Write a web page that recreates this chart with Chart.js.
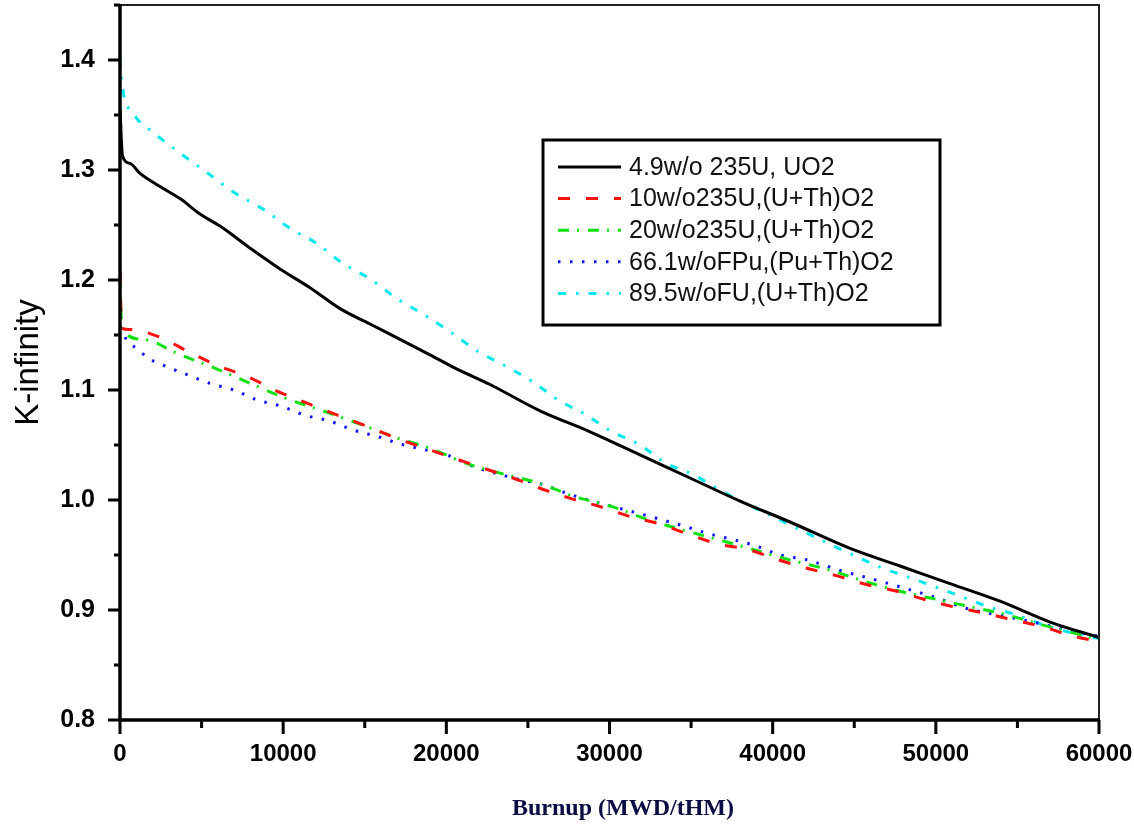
<!DOCTYPE html>
<html>
<head>
<meta charset="utf-8">
<script src="https://cdn.jsdelivr.net/npm/chart.js@4/dist/chart.umd.min.js"></script>
<style>
  body { margin: 0; background: #fff; }
  #wrap { position: relative; width: 1134px; height: 829px; }
</style>
</head>
<body>
<div id="wrap"><canvas id="myChart" width="1134" height="829"></canvas></div>
<script>
// series labels
const seriesNames = [
  "4.9w/o 235U, UO2",
  "10w/o235U,(U+Th)O2",
  "20w/o235U,(U+Th)O2",
  "66.1w/oFPu,(Pu+Th)O2",
  "89.5w/oFU,(U+Th)O2"
];

// 4.9w/o 235U, UO2 (black)
const burnupUO2 = [0, 150, 613, 1226, 2452, 3677, 4903, 6129, 7968, 9806, 11645, 13484, 15323, 17161, 19000, 20655, 22677, 25742, 28806, 31871, 34935, 38000, 41065, 44742, 47806, 50871, 53935, 57000, 60000];
const kUO2      = [1.356, 1.313, 1.306, 1.297, 1.285, 1.274, 1.260, 1.249, 1.229, 1.210, 1.193, 1.174, 1.160, 1.146, 1.132, 1.119, 1.105, 1.081, 1.062, 1.041, 1.020, 0.999, 0.980, 0.956, 0.940, 0.924, 0.908, 0.889, 0.875];

// 10w/o235U,(U+Th)O2 (red)
const burnup10U = [0, 100, 613, 2452, 4168, 6006, 7845, 9622, 11461, 13361, 15139, 16977, 18510, 20471, 22248, 24087, 25864, 27703, 29419, 31258, 33097, 34813, 36651, 38490, 40268, 42106, 43945, 45784, 47623, 49216, 51055, 53016, 54732, 56510, 58226, 60000];
const k10U      = [1.208, 1.156, 1.155, 1.148, 1.135, 1.122, 1.112, 1.099, 1.088, 1.077, 1.067, 1.056, 1.048, 1.038, 1.029, 1.020, 1.010, 1.001, 0.994, 0.985, 0.978, 0.969, 0.960, 0.955, 0.946, 0.938, 0.931, 0.923, 0.917, 0.910, 0.903, 0.897, 0.891, 0.885, 0.877, 0.871];

// 20w/o235U,(U+Th)O2 (green)
const burnup20U = [0, 120, 1410, 3555, 5945, 8152, 10236, 12442, 14526, 16855, 19000, 21268, 23413, 25742, 27887, 30155, 32177, 34445, 36651, 38797, 40942, 43332, 45661, 47806, 49951, 52096, 54242, 56387, 58226, 60000];
const k20U      = [1.202, 1.156, 1.146, 1.133, 1.119, 1.105, 1.092, 1.081, 1.070, 1.057, 1.047, 1.033, 1.024, 1.015, 1.003, 0.994, 0.983, 0.973, 0.964, 0.955, 0.946, 0.937, 0.926, 0.917, 0.910, 0.903, 0.896, 0.887, 0.880, 0.873];

// 66.1w/oFPu,(Pu+Th)O2 (blue)
const burnupPu = [0, 429, 1103, 1716, 2574, 4107, 5516, 6987, 8397, 9929, 11339, 12810, 14219, 15935, 17161, 18571, 20042, 21574, 24393, 25926, 27397, 28806, 31748, 33220, 34629, 36161, 37571, 39042, 40452, 41984, 44129, 46397, 47806, 50074, 51974, 53629, 54977, 56571, 58042, 60000];
const kPu      = [1.158, 1.145, 1.137, 1.129, 1.123, 1.114, 1.106, 1.100, 1.091, 1.085, 1.077, 1.072, 1.064, 1.057, 1.051, 1.046, 1.041, 1.031, 1.019, 1.014, 1.006, 0.9995, 0.988, 0.982, 0.976, 0.969, 0.964, 0.958, 0.950, 0.946, 0.936, 0.927, 0.921, 0.911, 0.901, 0.896, 0.892, 0.887, 0.882, 0.876];

// 89.5w/oFU,(U+Th)O2 (cyan)
const burnupFU = [0, 100, 797, 2145, 3800, 5394, 7048, 8703, 10419, 12074, 13668, 15323, 16977, 18571, 20226, 21942, 23597, 25252, 26845, 28500, 30155, 31748, 33526, 35119, 36774, 38429, 40023, 41677, 43332, 44926, 46580, 48297, 49951, 51606, 53200, 54855, 56510, 58103, 60000];
const kFU      = [1.401, 1.380, 1.352, 1.333, 1.314, 1.297, 1.279, 1.265, 1.247, 1.233, 1.215, 1.201, 1.183, 1.169, 1.153, 1.135, 1.122, 1.108, 1.091, 1.078, 1.062, 1.051, 1.033, 1.023, 1.009, 0.996, 0.985, 0.973, 0.961, 0.950, 0.939, 0.930, 0.921, 0.912, 0.903, 0.896, 0.887, 0.880, 0.874];

// axis ticks
const xTickValues = [0, 10000, 20000, 30000, 40000, 50000, 60000];
const xMinorValues = [5000, 15000, 25000, 35000, 45000, 55000];
const yTickValues = [0.8, 0.9, 1.0, 1.1, 1.2, 1.3, 1.4];
const yMinorValues = [0.85, 0.95, 1.05, 1.15, 1.25, 1.35, 1.45];

const toPoints = (xs, ys) => xs.map((x, i) => ({ x: x, y: ys[i] }));

const makeSet = (label, xs, ys, color, dash) => ({
  label: label,
  data: toPoints(xs, ys),
  borderColor: color,
  backgroundColor: color,
  borderWidth: 3,
  borderDash: dash,
  pointRadius: 0,
  showLine: true,
  fill: false,
  cubicInterpolationMode: 'monotone'
});

const datasets = [
  makeSet(seriesNames[0], burnupUO2, kUO2, '#000000', []),
  makeSet(seriesNames[1], burnup10U, k10U, '#ff1010', [12, 16]),
  makeSet(seriesNames[2], burnup20U, k20U, '#10e010', [11, 8, 2, 9]),
  makeSet(seriesNames[3], burnupPu, kPu, '#1010ff', [2.5, 9.5]),
  makeSet(seriesNames[4], burnupFU, kFU, '#00e8ee', [8, 10, 2.5, 10])
];
// draw black on top
datasets.forEach((d, i) => { d.order = i === 0 ? 0 : 1; });

// frame, ticks, legend and x title drawn with the chart's own scales
const framePlugin = {
  id: 'frame',
  afterDraw(chart) {
    const ctx = chart.ctx;
    const a = chart.chartArea;
    const xs = chart.scales.x;
    const ys = chart.scales.y;
    ctx.save();

    // thin top + right
    ctx.strokeStyle = '#222';
    ctx.lineWidth = 2;
    ctx.beginPath();
    ctx.moveTo(a.left, a.top);
    ctx.lineTo(a.right, a.top);
    ctx.lineTo(a.right, a.bottom);
    ctx.stroke();

    // thick left + bottom
    ctx.strokeStyle = '#000';
    ctx.lineWidth = 3.5;
    ctx.beginPath();
    ctx.moveTo(a.left, a.top - 1);
    ctx.lineTo(a.left, a.bottom);
    ctx.lineTo(a.right + 1, a.bottom);
    ctx.stroke();

    ctx.lineWidth = 3;
    ctx.beginPath();
    yTickValues.forEach(v => {
      const y = ys.getPixelForValue(v);
      ctx.moveTo(a.left - 12, y); ctx.lineTo(a.left, y);
    });
    yMinorValues.forEach(v => {
      const y = ys.getPixelForValue(v);
      ctx.moveTo(a.left - 6, y); ctx.lineTo(a.left, y);
    });
    xTickValues.forEach(v => {
      const x = xs.getPixelForValue(v);
      ctx.moveTo(x, a.bottom); ctx.lineTo(x, a.bottom + 14);
    });
    xMinorValues.forEach(v => {
      const x = xs.getPixelForValue(v);
      ctx.moveTo(x, a.bottom); ctx.lineTo(x, a.bottom + 8);
    });
    ctx.stroke();

    // legend box
    const lx = 543, ly = 140, lw = 397, lh = 185;
    ctx.fillStyle = '#fff';
    ctx.fillRect(lx, ly, lw, lh);
    ctx.strokeStyle = '#000';
    ctx.lineWidth = 3;
    ctx.strokeRect(lx, ly, lw, lh);
    ctx.font = '25px "Liberation Sans", Arial, sans-serif';
    ctx.textBaseline = 'middle';
    ctx.textAlign = 'left';
    chart.data.datasets.forEach((d, i) => {
      const cy = 167 + i * 31.6;
      ctx.strokeStyle = d.borderColor;
      ctx.lineWidth = 3;
      ctx.setLineDash(d.borderDash);
      ctx.beginPath();
      ctx.moveTo(558, cy); ctx.lineTo(621, cy);
      ctx.stroke();
      ctx.setLineDash([]);
      ctx.fillStyle = '#111';
      ctx.fillText(d.label, 629, cy + 1);
    });

    // x axis title
    ctx.font = 'bold 24px "Liberation Serif", "Times New Roman", serif';
    ctx.fillStyle = '#0c0c44';
    ctx.textAlign = 'center';
    ctx.fillText('Burnup (MWD/tHM)', 623, 809);
    ctx.restore();
  }
};

const ctx = document.getElementById('myChart');

new Chart(ctx, {
  type: 'scatter',
  data: { datasets: datasets },
  options: {
    responsive: false,
    devicePixelRatio: 1,
    animation: false,
    layout: { padding: { left: 0, right: 35, top: 5, bottom: 0 } },
    plugins: {
      legend: { display: false },
      tooltip: { enabled: false }
    },
    scales: {
      x: {
        type: 'linear',
        min: 0,
        max: 60000,
        afterFit: (scale) => {
          scale.height = 109;
          scale.paddingLeft = 0;
          scale.paddingRight = 0;
        },
        afterBuildTicks: (scale) => { scale.ticks = xTickValues.map(v => ({ value: v })); },
        grid: { display: false, drawTicks: false },
        border: { display: false },
        ticks: {
          padding: 20,
          color: '#000',
          maxRotation: 0,
          autoSkip: false,
          font: { family: '"Liberation Sans", Arial, sans-serif', size: 24, weight: 'bold' },
          callback: (v) => String(v)
        }
      },
      y: {
        type: 'linear',
        min: 0.8,
        max: 1.45,
        afterFit: (scale) => {
          scale.width = 120;
          scale.paddingTop = 0;
          scale.paddingBottom = 0;
        },
        afterBuildTicks: (scale) => { scale.ticks = yTickValues.map(v => ({ value: v })); },
        grid: { display: false, drawTicks: false },
        border: { display: false },
        ticks: {
          padding: 25,
          color: '#000',
          autoSkip: false,
          font: { family: '"Liberation Sans", Arial, sans-serif', size: 25, weight: 'bold' },
          callback: (v) => Number(v).toFixed(1)
        },
        title: {
          display: true,
          text: 'K-infinity',
          color: '#000',
          padding: { top: 9, bottom: 0 },
          font: { family: '"Liberation Sans", Arial, sans-serif', size: 33 }
        }
      }
    }
  },
  plugins: [framePlugin]
});
</script>
</body>
</html>
